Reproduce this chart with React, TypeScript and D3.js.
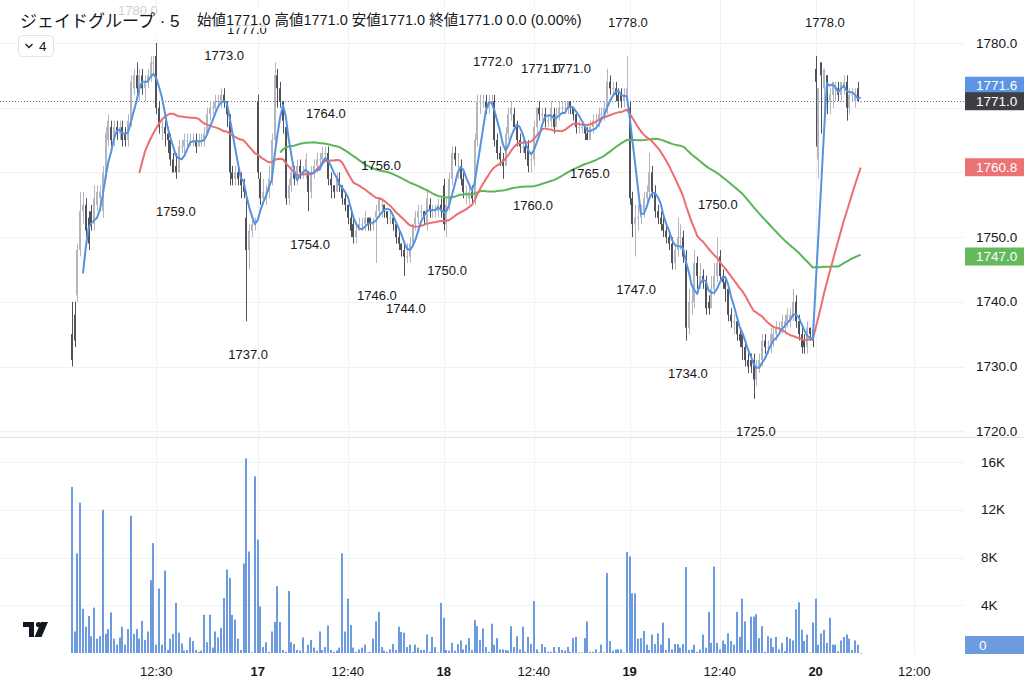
import React from 'react';
import * as d3 from 'd3';

// 5-minute bars, 16th (index 0) to 20th (index 280). One trading day = 66 bars.
const opens = [
  1735,1738,1741,1748,1754,1755,1753,1754,1752,1755,
  1756,1754,1760,1765,1767,1765,1767,1766,1767,1766,
  1765,1768,1773,1775,1773,1775,1773,1774,1775,1777,
  1778,1770,1767,1767,1766,1765,1762,1761,1760,1764,
  1764,1765,1765,1765,1765,1764,1765,1765,1766,1769,
  1770,1770,1771,1771,1772,1771,1768,1760,1759,1760,
  1759,1758,1753,1748,1751,1752,
  1771,1759,1756,1757,1757,1759,1765,1775,1773,1771,
  1767,1756,1758,1760,1759,1761,1760,1760,1760,1757,
  1760,1761,1762,1762,1763,1763,1759,1758,1757,1759,
  1758,1756,1755,1753,1752,1750,1751,1752,1752,1753,
  1753,1752,1753,1754,1755,1755,1754,1753,1753,1752,
  1750,1749,1748,1747,1747,1749,1752,1753,1754,1754,
  1752,1755,1754,1754,1754,1755,
  1758,1752,1755,1759,1763,1761,1761,1759,1757,1756,
  1757,1756,1765,1771,1771,1771,1770,1771,1771,1765,
  1763,1762,1761,1766,1769,1769,1767,1765,1764,1764,
  1764,1762,1762,1767,1770,1769,1769,1768,1768,1769,
  1767,1769,1770,1770,1770,1771,1770,1769,1767,1767,
  1767,1766,1765,1767,1768,1768,1769,1769,1770,1774,
  1773,1773,1772,1772,1771,1772,
  1770,1756,1752,1753,1753,1754,1756,1757,1760,1757,
  1754,1753,1752,1751,1750,1749,1746,1748,1750,1750,
  1747,1736,1740,1740,1746,1743,1744,1743,1740,1739,
  1742,1744,1747,1744,1743,1742,1738,1737,1737,1735,
  1735,1733,1731,1731,1731,1728,1730,1731,1734,1733,
  1733,1734,1735,1736,1736,1736,1737,1737,1738,1740,
  1737,1735,1734,1733,1736,1735,
  1776,1762,1777,1773,1775,1771,1772,1773,1773,1772,
  1773,1774,1770,1772,1771,1773,1771,
];
const highs = [
  1740,1740,1749,1757,1757,1756,1754,1755,1758,1758,
  1758,1761,1767,1769,1768,1768,1768,1768,1768,1767,
  1769,1775,1776,1777,1776,1776,1775,1776,1778,1778,
  1780,1771,1768,1768,1767,1766,1763,1763,1765,1765,
  1766,1766,1766,1766,1766,1766,1766,1767,1770,1771,
  1771,1772,1772,1773,1773,1771,1769,1761,1761,1761,
  1760,1759,1757,1752,1753,1753,
  1772,1760,1759,1758,1761,1766,1777,1776,1774,1771,
  1768,1759,1761,1761,1762,1762,1761,1763,1760,1761,
  1762,1763,1763,1764,1764,1764,1760,1758,1760,1760,
  1758,1757,1755,1754,1753,1752,1753,1753,1754,1753,
  1753,1753,1755,1756,1756,1755,1754,1754,1753,1752,
  1751,1749,1749,1749,1750,1752,1754,1755,1755,1754,
  1757,1756,1755,1755,1756,1756,
  1759,1756,1760,1764,1764,1763,1762,1760,1758,1758,
  1758,1766,1772,1772,1772,1772,1772,1772,1772,1766,
  1764,1763,1767,1770,1771,1770,1768,1766,1765,1765,
  1765,1763,1768,1770,1771,1770,1770,1769,1771,1770,
  1770,1771,1771,1771,1771,1771,1770,1769,1768,1768,
  1767,1767,1768,1769,1769,1770,1770,1771,1776,1775,
  1774,1774,1773,1773,1773,1778,
  1771,1757,1755,1755,1755,1757,1758,1763,1761,1758,
  1755,1754,1753,1752,1751,1750,1749,1753,1752,1751,
  1748,1742,1742,1748,1747,1746,1745,1744,1741,1744,
  1746,1750,1748,1745,1744,1742,1739,1738,1737,1736,
  1735,1734,1732,1732,1732,1731,1732,1735,1735,1734,
  1736,1736,1737,1737,1738,1738,1739,1739,1742,1741,
  1738,1736,1735,1737,1736,1736,
  1778,1773,1777,1776,1775,1773,1774,1774,1774,1774,
  1775,1775,1773,1773,1773,1774,1771,
];
const lows = [
  1730,1733,1740,1747,1752,1750,1748,1751,1751,1754,
  1754,1753,1759,1764,1764,1764,1765,1765,1764,1764,
  1764,1767,1772,1772,1771,1772,1771,1773,1774,1775,
  1769,1766,1765,1764,1763,1761,1760,1759,1760,1763,
  1763,1764,1764,1764,1763,1764,1764,1764,1766,1768,
  1769,1769,1770,1770,1770,1767,1758,1758,1758,1758,
  1756,1756,1737,1745,1750,1751,
  1759,1755,1755,1755,1756,1758,1764,1770,1770,1766,
  1755,1755,1757,1758,1758,1759,1759,1759,1754,1756,
  1759,1760,1761,1761,1762,1758,1756,1756,1757,1757,
  1755,1754,1752,1750,1749,1749,1751,1751,1751,1751,
  1751,1751,1746,1753,1753,1753,1752,1752,1751,1749,
  1748,1747,1744,1746,1746,1749,1751,1752,1753,1752,
  1751,1753,1753,1753,1753,1753,
  1751,1750,1754,1758,1761,1759,1758,1756,1755,1755,
  1755,1755,1764,1769,1770,1769,1769,1770,1764,1762,
  1761,1759,1761,1765,1768,1767,1764,1763,1763,1762,
  1760,1760,1761,1766,1768,1768,1767,1767,1767,1766,
  1767,1768,1769,1769,1769,1769,1768,1766,1766,1766,
  1765,1765,1765,1766,1767,1767,1768,1768,1769,1772,
  1772,1771,1770,1770,1770,1771,
  1755,1750,1747,1751,1752,1753,1755,1756,1756,1753,
  1752,1751,1750,1749,1748,1745,1745,1747,1748,1746,
  1734,1735,1738,1739,1742,1742,1742,1738,1738,1739,
  1741,1743,1743,1742,1740,1737,1736,1735,1734,1733,
  1731,1730,1729,1729,1725,1727,1729,1730,1732,1732,
  1732,1733,1734,1735,1735,1735,1736,1736,1737,1736,
  1734,1732,1732,1732,1734,1733,
  1764,1759,1766,1769,1769,1769,1770,1771,1771,1771,
  1772,1768,1769,1771,1770,1771,1771,
];
const closes = [
  1731,1734,1748,1754,1755,1751,1749,1752,1756,1757,
  1757,1760,1766,1768,1765,1767,1766,1767,1765,1765,
  1768,1774,1775,1773,1775,1773,1774,1775,1777,1777,
  1770,1767,1767,1766,1765,1762,1760,1760,1764,1764,
  1765,1765,1765,1765,1764,1765,1765,1766,1769,1770,
  1770,1771,1771,1772,1771,1769,1760,1759,1760,1759,
  1758,1757,1748,1751,1752,1752,
  1760,1756,1757,1757,1759,1765,1775,1773,1771,1768,
  1756,1758,1760,1759,1761,1760,1760,1762,1757,1760,
  1761,1762,1762,1763,1763,1759,1758,1757,1759,1758,
  1756,1755,1753,1751,1750,1751,1752,1752,1753,1752,
  1752,1752,1754,1756,1755,1754,1753,1753,1752,1750,
  1749,1748,1747,1747,1749,1752,1753,1754,1754,1753,
  1756,1754,1754,1754,1755,1754,
  1752,1755,1759,1763,1762,1761,1759,1757,1757,1757,
  1756,1765,1771,1771,1771,1770,1771,1771,1765,1763,
  1762,1761,1766,1769,1770,1767,1765,1764,1764,1763,
  1761,1762,1767,1770,1769,1769,1768,1768,1770,1767,
  1769,1770,1770,1770,1771,1770,1769,1767,1767,1767,
  1766,1765,1767,1768,1768,1769,1769,1770,1774,1773,
  1773,1772,1771,1771,1772,1773,
  1756,1752,1753,1753,1754,1756,1757,1760,1757,1754,
  1753,1752,1751,1750,1749,1746,1748,1750,1750,1747,
  1736,1740,1740,1746,1744,1744,1743,1739,1739,1742,
  1744,1746,1744,1743,1742,1738,1737,1737,1735,1734,
  1733,1731,1730,1730,1728,1730,1731,1734,1733,1733,
  1735,1735,1736,1736,1737,1737,1738,1738,1740,1737,
  1735,1733,1733,1736,1735,1734,
  1774,1773,1775,1776,1771,1772,1774,1773,1772,1774,
  1774,1770,1772,1772,1772,1771,1771,
];
// volume in thousands of shares
const volumesK = [
  13.9,1.8,8.35,12.6,3.7,2.2,3.1,1.4,3.8,1.2,
  1.4,12.0,1.6,2.0,3.4,1.2,0.7,1.3,2.2,0.7,
  2.0,11.5,1.6,2.0,1.2,2.7,1.1,1.8,6.1,9.2,
  0.7,5.4,0.7,6.9,0.25,1.2,1.6,4.2,1.7,0.8,
  0.2,0.25,1.3,1.0,0.25,0.1,0.2,3.2,0.9,3.2,
  0.45,1.8,1.3,2.1,4.6,7.0,6.3,3.2,2.8,1.2,
  0.25,7.5,16.3,8.5,0.05,14.8,
  9.5,3.9,0.5,0.9,0.1,1.8,2.6,5.6,2.6,0.25,
  0.1,5.2,0.9,0.75,0.25,0.2,1.3,0.05,0.7,1.1,
  0.45,0.2,1.8,0.25,0.5,2.3,0.25,0.1,0.2,0.45,
  8.35,1.8,4.55,2.35,0.45,0.1,0.3,0.45,0.7,0.05,
  0.1,1.2,2.65,3.45,0.5,0.2,0.1,0.3,0.75,0.25,
  2.2,1.75,1.7,0.5,0.7,0.1,0.7,0.45,0.25,0.25,
  1.55,0.1,1.35,0.5,0.05,4.2,
  2.95,0.25,0.2,0.85,0.2,0.75,1.05,0.3,0.7,1.25,
  0.25,2.75,2.25,1.1,2.05,0.5,0.1,2.45,0.7,1.25,
  0.3,0.3,0.25,0.2,2.25,0.5,1.4,0.3,2.2,0.1,
  1.35,0.75,4.35,0.3,0.05,0.75,0.5,0.1,0.1,0.5,
  0.05,0.5,0.25,0.2,0.5,0.1,1.25,1.35,0.05,0.05,
  1.25,2.65,0.1,0.1,0.3,0.05,0.7,0.05,6.7,1.0,
  0.2,0.3,0.3,0.3,0.05,8.45,
  8.1,5.0,5.0,1.2,1.25,1.85,0.7,0.25,1.55,0.75,
  1.65,0.7,2.55,0.25,1.25,0.3,0.75,0.75,0.45,0.75,
  7.2,0.25,0.3,0.7,0.1,0.3,1.55,0.45,3.45,0.85,
  7.25,0.85,0.3,1.05,0.75,1.65,1.0,0.7,3.45,1.35,
  4.55,2.65,0.25,3.05,3.05,3.25,1.25,2.25,0.1,1.4,
  1.25,0.5,1.35,0.3,0.85,0.15,1.35,1.2,1.05,3.65,
  4.25,1.95,1.0,1.55,0.05,2.55,
  4.55,0.7,1.65,1.95,0.85,2.95,0.7,0.7,0.15,1.05,
  1.35,1.55,1.2,0.25,1.05,0.7,0,
];

const timeTickBars = [30, 66, 98, 132, 164, 198, 230, 264, 299];
const timeTickLabels = ['12:30', '17', '12:40', '18', '12:40', '19', '12:40', '20', '12:00'];
const priceTicks = [1720, 1730, 1740, 1750, 1760, 1770, 1780];
const volumeTicksK = [4, 8, 12, 16];

// swing high / low labels (bar position of the text, value, above = high)
const pivotBars = [23.5, 54.1, 37, 62.2, 62.6, 90.2, 84.6, 109.8, 108.3, 118.6, 133.2, 149.5, 166.5, 177.2, 163.7, 183.9, 197.4, 200.3, 229.3, 218.7, 242.8, 267.3];
const pivotValues = [1780, 1773, 1759, 1777, 1737, 1764, 1754, 1756, 1746, 1744, 1750, 1772, 1771, 1771, 1760, 1765, 1778, 1747, 1750, 1734, 1725, 1778];
const pivotIsHigh = [1, 1, 0, 1, 0, 1, 0, 1, 0, 0, 0, 1, 1, 1, 0, 0, 1, 0, 1, 0, 0, 1];

const maPeriods = [75, 25, 5];
const maColors = ['#5db55a', '#ec6e6e', '#5592e0'];
const badgeValues = [1771.6, 1760.8, 1747.0];
const badgeColors = ['#5b95e3', '#eb7373', '#63b95b'];

const FONT = "'Liberation Sans', 'Noto Sans CJK JP', sans-serif";
const TEXT = '#131722';
const GRID = '#f1f2f5';

function sma(values: number[], n: number): [number, number][] {
  const out: [number, number][] = [];
  let sum = 0;
  values.forEach((v, i) => {
    sum += v;
    if (i >= n) sum -= values[i - n];
    if (i >= n - 1) out.push([i, sum / n]);
  });
  return out;
}

export default function App() {
  const W = 1024, H = 689, paneRight = 964;
  const priceBottom = 437, volBottom = 655;
  const last = closes.length - 1;

  const x = d3.scaleLinear().domain([0, last]).range([71.7, 860.7]);
  const y = d3.scaleLinear().domain([1720, 1780]).range([431.2, 43]);
  const yv = d3.scaleLinear().domain([0, 16]).range([653, 462]);
  const line = d3.line<[number, number]>().x(d => x(d[0])).y(d => y(d[1]));

  const closeY = y(closes[last]);
  const chg = closes[last] - closes[last - 1];
  const legend = `始値${opens[last].toFixed(1)} 高値${highs[last].toFixed(1)} 安値${lows[last].toFixed(1)} 終値${closes[last].toFixed(1)} ${chg.toFixed(1)} (${((chg / closes[last - 1]) * 100).toFixed(2)}%)`;

  const badgeY = badgeValues.map(v => {
    const by = y(v);
    if (Math.abs(by - closeY) < 16) return by < closeY ? closeY - 15.5 : closeY + 15.5;
    return by;
  });
  // axis labels hidden under a value badge, as the platform does
  const occupied = [closeY, ...badgeY];
  const axisTicks = priceTicks.filter(p => occupied.every(b => Math.abs(y(p) - b) > 12));

  return (
    <svg width={W} height={H} style={{ position: 'fixed', left: 0, top: 0, background: '#fff' }} fontFamily={FONT}>
      <defs>
        <clipPath id="pricePane"><rect x={0} y={0} width={paneRight} height={priceBottom} /></clipPath>
        <clipPath id="volPane"><rect x={0} y={priceBottom + 1} width={paneRight} height={volBottom - priceBottom - 1} /></clipPath>
      </defs>
      <rect x={0} y={0} width={W} height={H} fill="#fff" />

      {/* grid */}
      {priceTicks.map(p => (
        <line key={'gp' + p} x1={0} x2={paneRight} y1={Math.round(y(p)) + 0.5} y2={Math.round(y(p)) + 0.5} stroke={GRID} />
      ))}
      {volumeTicksK.map(v => (
        <line key={'gv' + v} x1={0} x2={paneRight} y1={Math.round(yv(v)) + 0.5} y2={Math.round(yv(v)) + 0.5} stroke={GRID} />
      ))}
      {timeTickBars.map(b => (
        <line key={'gt' + b} x1={Math.round(x(b)) + 0.5} x2={Math.round(x(b)) + 0.5} y1={0} y2={volBottom} stroke={GRID} />
      ))}
      <line x1={0} x2={W} y1={priceBottom + 0.5} y2={priceBottom + 0.5} stroke="#e0e3eb" />

      {/* volume */}
      <g clipPath="url(#volPane)">
        {volumesK.map((v, i) => {
          const bx = Math.round(x(i));
          const top = yv(v);
          return <rect key={'v' + i} x={bx - 1} y={top} width={2} height={Math.max(0.6, yv(0) - top)} fill="#6c9be0" />;
        })}
      </g>

      {/* last price line */}
      <line x1={0} x2={paneRight} y1={Math.round(closeY) + 0.5} y2={Math.round(closeY) + 0.5} stroke="#6b6f78" strokeDasharray="1 2" />

      {/* candles */}
      <g clipPath="url(#pricePane)">
        {closes.map((c, i) => {
          const o = opens[i];
          const up = c >= o;
          const col = up ? '#b3b6be' : '#4f525b';
          const bx = Math.round(x(i));
          const yTop = y(Math.max(o, c));
          const yBot = y(Math.min(o, c));
          return (
            <g key={'c' + i}>
              <line x1={bx + 0.5} x2={bx + 0.5} y1={y(highs[i])} y2={y(lows[i])} stroke={col} strokeWidth={1} />
              <rect x={bx - 1} y={yTop} width={2} height={Math.max(1, yBot - yTop)} fill={col} />
            </g>
          );
        })}
        {maPeriods.map((n, k) => (
          <path key={'ma' + n} d={line(sma(closes, n)) || ''} fill="none" stroke={maColors[k]} strokeWidth={2} strokeLinejoin="round" />
        ))}
      </g>

      {/* pivot labels */}
      {pivotBars.map((b, k) => (
        <text key={'pl' + k} x={x(b)} y={y(pivotValues[k]) + (pivotIsHigh[k] ? -33 : 33)} textAnchor="middle" dominantBaseline="central" fontSize={13} fill={TEXT}>
          {pivotValues[k].toFixed(1)}
        </text>
      ))}

      {/* legend */}
      <rect x={14} y={5} width={174} height={29} fill="#fff" opacity={0.78} />
      <rect x={190} y={8} width={400} height={20} fill="#fff" opacity={0.78} />
      <text x={20} y={21} fontSize={17} fill={TEXT} dominantBaseline="central">ジェイドグループ · 5</text>
      <text x={197} y={20} fontSize={14.5} fill={TEXT} dominantBaseline="central">{legend}</text>
      <rect x={18.5} y={35.5} width={35} height={21} rx={4} fill="#fff" stroke="#e0e3eb" />
      <path d="M25.5,44 l3.5,3.5 l3.5,-3.5" fill="none" stroke={TEXT} strokeWidth={1.3} />
      <text x={39} y={46.5} fontSize={13.5} fill={TEXT} dominantBaseline="central">4</text>

      {/* price axis */}
      {axisTicks.map(p => (
        <text key={'pa' + p} x={976} y={y(p)} fontSize={13.5} fill={TEXT} dominantBaseline="central">{p.toFixed(1)}</text>
      ))}
      {volumeTicksK.map(v => (
        <text key={'va' + v} x={981} y={yv(v)} fontSize={13.5} fill={TEXT} dominantBaseline="central">{v}K</text>
      ))}
      {badgeValues.map((v, k) => (
        <g key={'b' + k}>
          <rect x={965} y={badgeY[k] - 9} width={59} height={18} fill={badgeColors[k]} />
          <text x={976} y={badgeY[k]} fontSize={13.5} fill="#fff" dominantBaseline="central">{v.toFixed(1)}</text>
        </g>
      ))}
      <rect x={965} y={closeY - 9} width={59} height={18} fill="#3e3f44" />
      <text x={976} y={closeY} fontSize={13.5} fill="#fff" dominantBaseline="central">{closes[last].toFixed(1)}</text>
      <rect x={965} y={636} width={59} height={18} fill="#6c9be0" />
      <text x={979} y={645} fontSize={13.5} fill="#fff" dominantBaseline="central">{volumesK[last]}</text>

      {/* time axis */}
      {timeTickBars.map((b, k) => (
        <text key={'ta' + k} x={x(b)} y={671} textAnchor="middle" fontSize={13} fill={TEXT} dominantBaseline="central"
          fontWeight={timeTickLabels[k].includes(':') ? 400 : 700}>
          {timeTickLabels[k]}
        </text>
      ))}

      {/* logo */}
      <g fill={TEXT}>
        <path d="M23,622 h11 v15 h-5 v-10 h-6 z" />
        <circle cx={38.5} cy={624.5} r={2.6} />
        <path d="M41,622 h7 l-6.5,15 h-7 z" />
      </g>
    </svg>
  );
}
